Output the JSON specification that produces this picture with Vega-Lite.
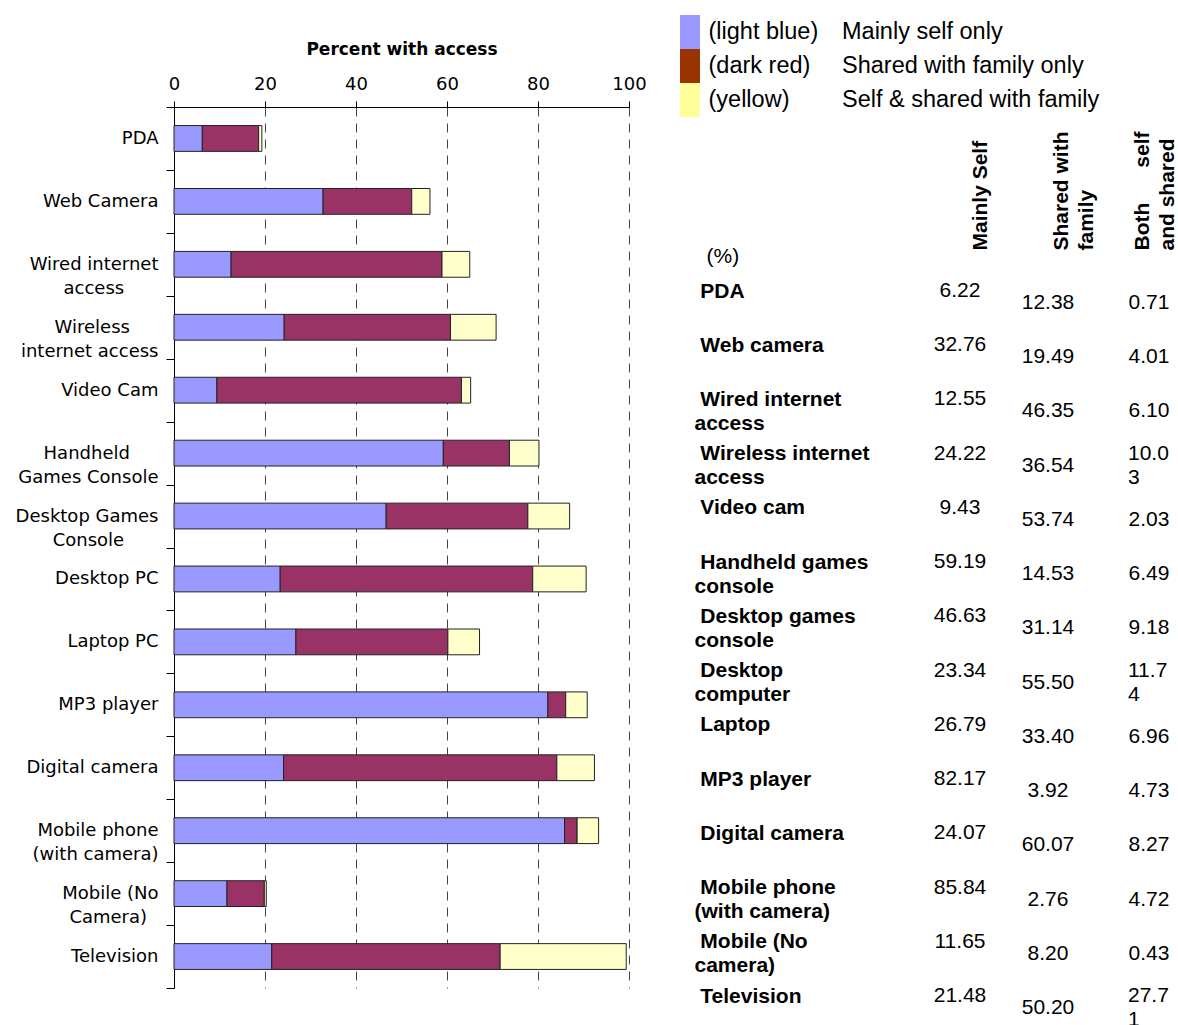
{
  "$schema": "https://vega.github.io/schema/vega-lite/v6.json",
  "background": "white",
  "padding": {"left": 15, "top": 15, "right": 0, "bottom": 0},
  "config": {"view": {"stroke": null}},
  "spacing": 33,
  "datasets": {
    "devices": [
      {"device": "PDA", "entry": "\u2060\u00a0PDA", "self": 6.22, "shared": 12.38, "both": 0.71},
      {"device": "Web Camera", "entry": "\u2060\u00a0Web camera", "self": 32.76, "shared": 19.49, "both": 4.01},
      {"device": "Wired internet|access", "entry": "\u2060\u00a0Wired internet|access", "self": 12.55, "shared": 46.35, "both": 6.10},
      {"device": "Wireless|internet access", "entry": "\u2060\u00a0Wireless internet|access", "self": 24.22, "shared": 36.54, "both": 10.03},
      {"device": "Video Cam", "entry": "\u2060\u00a0Video cam", "self": 9.43, "shared": 53.74, "both": 2.03},
      {"device": "Handheld|Games Console", "entry": "\u2060\u00a0Handheld games|console", "self": 59.19, "shared": 14.53, "both": 6.49},
      {"device": "Desktop Games|Console", "entry": "\u2060\u00a0Desktop games|console", "self": 46.63, "shared": 31.14, "both": 9.18},
      {"device": "Desktop PC", "entry": "\u2060\u00a0Desktop|computer", "self": 23.34, "shared": 55.50, "both": 11.74},
      {"device": "Laptop PC", "entry": "\u2060\u00a0Laptop", "self": 26.79, "shared": 33.40, "both": 6.96},
      {"device": "MP3 player", "entry": "\u2060\u00a0MP3 player", "self": 82.17, "shared": 3.92, "both": 4.73},
      {"device": "Digital camera", "entry": "\u2060\u00a0Digital camera", "self": 24.07, "shared": 60.07, "both": 8.27},
      {"device": "Mobile phone|(with camera)", "entry": "\u2060\u00a0Mobile phone|(with camera)", "self": 85.84, "shared": 2.76, "both": 4.72},
      {"device": "Mobile (No|Camera)", "entry": "\u2060\u00a0Mobile (No|camera)", "self": 11.65, "shared": 8.20, "both": 0.43},
      {"device": "Television", "entry": "\u2060\u00a0Television", "self": 21.48, "shared": 50.20, "both": 27.71}
    ],
    "key": [
      {"swatch": "(light blue)", "meaning": "Mainly self only"},
      {"swatch": "(dark red)", "meaning": "Shared with family only"},
      {"swatch": "(yellow)", "meaning": "Self & shared with family"}
    ]
  },
  "hconcat": [
    {
      "spacing": 24,
      "vconcat": [
        {
          "width": 455,
          "height": 1,
          "data": {"values": []},
          "mark": {"type": "rule"},
          "encoding": {}
        },
        {
          "width": 455,
          "height": 881,
          "data": {"name": "devices"},
          "transform": [
            {"fold": ["self", "shared", "both"], "as": ["access", "pct"]},
            {"calculate": "indexof(['self', 'shared', 'both'], datum.access)", "as": "stack_rank"}
          ],
          "mark": {"type": "bar", "height": {"band": 0.41}, "stroke": "#222222", "strokeWidth": 1},
          "encoding": {
            "y": {
              "field": "device",
              "type": "nominal",
              "sort": null,
              "scale": {"type": "band", "paddingInner": 0, "paddingOuter": 0},
              "axis": {
                "title": null,
                "tickBand": "extent",
                "tickSize": 8,
                "tickColor": "#000000",
                "domainColor": "#000000",
                "labelPadding": 8,
                "labelFont": "DejaVu Sans",
                "labelFontSize": 18,
                "labelColor": "#000000",
                "labelLineHeight": 24,
                "labelLimit": 0,
                "grid": false,
                "labelExpr": "length(split(datum.label, '|')) < 2 ? datum.label : [pad(split(datum.label, '|')[0], length(split(datum.label, '|')[0]) + (datum.value === 'Wireless|internet access' || datum.value === 'Handheld|Games Console' ? 5 : 0), '\u00a0') + '\u2060', pad(split(datum.label, '|')[1], length(split(datum.label, '|')[1]) + (datum.value === 'Wired internet|access' || datum.value === 'Desktop Games|Console' ? 6 : datum.value === 'Mobile (No|Camera)' ? 2 : 0), '\u00a0') + '\u2060']"
              }
            },
            "x": {
              "field": "pct",
              "type": "quantitative",
              "stack": "zero",
              "scale": {"domain": [0, 100], "nice": false},
              "axis": {
                "orient": "top",
                "title": "Percent with access",
                "titleFont": "DejaVu Sans",
                "titleFontSize": 17,
                "titleFontWeight": "bold",
                "titleColor": "#000000",
                "titlePadding": 17,
                "values": [0, 20, 40, 60, 80, 100],
                "labelFont": "DejaVu Sans",
                "labelFontSize": 18,
                "labelColor": "#000000",
                "labelPadding": 8,
                "labelFlush": false,
                "tickSize": 6,
                "tickColor": "#000000",
                "domainColor": "#000000",
                "grid": true,
                "gridColor": "#444444",
                "gridDash": [9, 7],
                "gridWidth": 1
              }
            },
            "color": {
              "field": "access",
              "type": "nominal",
              "scale": {"domain": ["self", "shared", "both"], "range": ["#9999FF", "#993366", "#FFFFCC"]},
              "legend": null
            },
            "order": {"field": "stack_rank", "type": "quantitative"}
          }
        }
      ]
    },
    {
      "spacing": 13,
      "vconcat": [
        {
          "width": 20,
          "height": 102,
          "data": {"name": "key"},
          "encoding": {
            "y": {
              "field": "swatch",
              "type": "nominal",
              "sort": null,
              "scale": {"type": "band", "paddingInner": 0, "paddingOuter": 0},
              "axis": {
                "orient": "right",
                "title": null,
                "ticks": false,
                "domain": false,
                "labelPadding": 8,
                "labelFont": "Liberation Sans",
                "labelFontSize": 23.5,
                "labelColor": "#000000",
                "labelAlign": "left",
                "labelLimit": 0
              }
            }
          },
          "layer": [
            {
              "mark": {"type": "rect"},
              "encoding": {
                "fill": {
                  "field": "swatch",
                  "type": "nominal",
                  "sort": null,
                  "scale": {"range": ["#9999FF", "#993300", "#FFFF99"]},
                  "legend": null
                }
              }
            },
            {
              "mark": {"type": "text", "align": "left", "baseline": "middle", "dx": 152, "font": "Liberation Sans", "fontSize": 23.5, "color": "#000000"},
              "encoding": {"text": {"field": "meaning", "type": "nominal"}}
            }
          ]
        },
        {
          "width": 498,
          "height": 750,
          "data": {"name": "devices"},
          "encoding": {
            "y": {
              "field": "entry",
              "type": "nominal",
              "sort": null,
              "scale": {"type": "point", "padding": 0.415, "align": 0.778},
              "axis": {
                "title": "(%)",
                "titleAngle": 0,
                "titleAlign": "left",
                "titleBaseline": "middle",
                "titleX": 26,
                "titleY": 0,
                "titleFont": "Liberation Sans",
                "titleFontSize": 21,
                "titleFontWeight": "normal",
                "titleColor": "#000000",
                "ticks": false,
                "domain": false,
                "grid": false,
                "labelAlign": "left",
                "labelBaseline": "middle",
                "labelPadding": -14,
                "labelFont": "Liberation Sans",
                "labelFontSize": 21,
                "labelFontWeight": "bold",
                "labelColor": "#000000",
                "labelLineHeight": 24,
                "labelLimit": 0,
                "labelExpr": "split(datum.label, '|')"
              }
            },
            "x": {
              "field": "access",
              "type": "nominal",
              "scale": {"type": "point", "domain": ["self", "shared", "both"], "range": [300, 462], "padding": 0},
              "axis": {
                "orient": "top",
                "title": null,
                "ticks": false,
                "domain": false,
                "grid": false,
                "labelAngle": 270,
                "labelAlign": "left",
                "labelBaseline": "middle",
                "labelPadding": 6,
                "labelFont": "Liberation Sans",
                "labelFontSize": 21,
                "labelFontWeight": "bold",
                "labelColor": "#000000",
                "labelLineHeight": 25,
                "labelLimit": 0,
                "labelExpr": "datum.value === 'self' ? 'Mainly Self' : datum.value === 'shared' ? ['Shared with', 'family'] : ['Both\u00a0\u00a0\u00a0\u00a0\u00a0\u00a0self', 'and shared']"
              }
            }
          },
          "layer": [
            {
              "transform": [{"fold": ["self"], "as": ["access", "pct"]}],
              "mark": {"type": "text", "align": "center", "baseline": "middle", "dx": -20, "font": "Liberation Sans", "fontSize": 21, "color": "#000000"},
              "encoding": {"text": {"field": "pct", "type": "quantitative", "format": ".2f"}}
            },
            {
              "transform": [{"fold": ["shared"], "as": ["access", "pct"]}],
              "mark": {"type": "text", "align": "center", "baseline": "middle", "dx": -13, "dy": 12, "font": "Liberation Sans", "fontSize": 21, "color": "#000000"},
              "encoding": {"text": {"field": "pct", "type": "quantitative", "format": ".2f"}}
            },
            {
              "transform": [
                {"fold": ["both"], "as": ["access", "pct"]},
                {"filter": "datum.pct < 10"}
              ],
              "mark": {"type": "text", "align": "center", "baseline": "middle", "dx": 7, "dy": 12, "font": "Liberation Sans", "fontSize": 21, "color": "#000000"},
              "encoding": {"text": {"field": "pct", "type": "quantitative", "format": ".2f"}}
            },
            {
              "transform": [
                {"fold": ["both"], "as": ["access", "pct"]},
                {"filter": "datum.pct >= 10"},
                {"calculate": "slice(format(datum.pct, '.2f'), 0, 4) + '\\n' + slice(format(datum.pct, '.2f'), 4)", "as": "pct_text"}
              ],
              "mark": {"type": "text", "align": "left", "baseline": "middle", "dx": -14, "lineBreak": "\n", "lineHeight": 24, "font": "Liberation Sans", "fontSize": 21, "color": "#000000"},
              "encoding": {"text": {"field": "pct_text", "type": "nominal"}}
            }
          ]
        }
      ]
    }
  ]
}
